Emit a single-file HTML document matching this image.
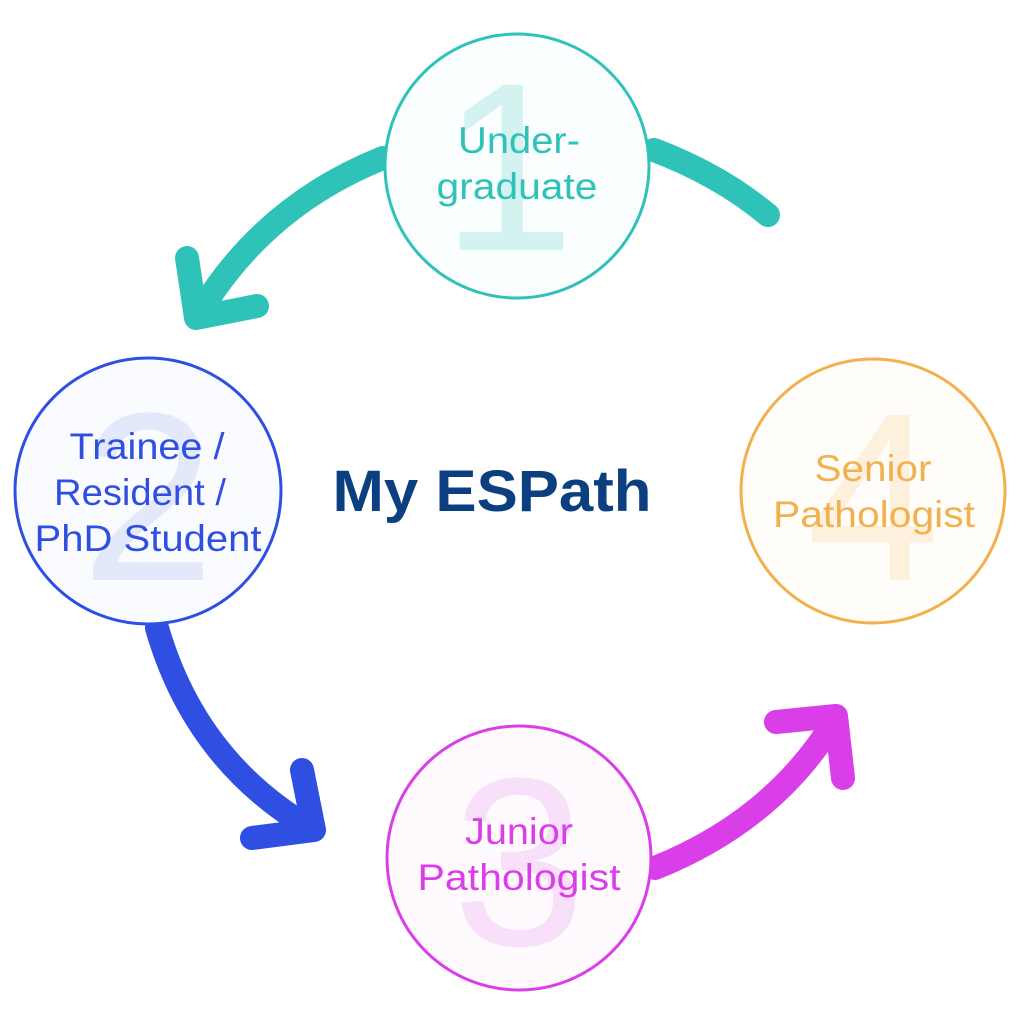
<!DOCTYPE html>
<html><head><style>
html,body{margin:0;padding:0;background:#fff;}
svg{display:block;}
text{font-family:"Liberation Sans","DejaVu Sans",sans-serif;}
</style></head><body>
<svg width="1024" height="1024" viewBox="0 0 1024 1024" xmlns="http://www.w3.org/2000/svg">
<rect width="1024" height="1024" fill="#fff"/>
<g fill="none" stroke-width="24" stroke-linecap="round" stroke-linejoin="round">
<path d="M383,158 Q265,205 200,312" stroke="#2ec2b8"/>
<path d="M187,258 L196,318 L257,306" stroke="#2ec2b8"/>
<path d="M654,150 Q720,175 768,215" stroke="#2ec2b8"/>
<path d="M157,628 Q195,760 310,828" stroke="#2f4fe2"/>
<path d="M302,770 L314,830 L252,838" stroke="#2f4fe2"/>
<path d="M655,868 Q775,820 836,718" stroke="#d93ee8"/>
<path d="M776,722 L836,716 L843,778" stroke="#d93ee8"/>
</g>
<circle cx="517" cy="166" r="132" fill="#fafefe" stroke="#2ec2b8" stroke-width="3"/>
<circle cx="148" cy="491" r="133" fill="#fafbff" stroke="#2f4fe2" stroke-width="3"/>
<circle cx="519" cy="858" r="132" fill="#fffafe" stroke="#d93ee8" stroke-width="3"/>
<circle cx="873" cy="491" r="132" fill="#fffdfa" stroke="#f2b14e" stroke-width="3"/>
<g font-size="240" text-anchor="middle">
<text x="508" y="250" fill="#d4f2f0">1</text>
<text x="148" y="580" fill="#e3e8fb">2</text>
<text x="519" y="945" fill="#f8e0fa">3</text>
<text x="873" y="580" fill="#fdf0dc">4</text>
</g>
<g font-size="37" text-anchor="middle">
<text x="519" y="153" fill="#2ec2b8" textLength="122" lengthAdjust="spacingAndGlyphs">Under-</text>
<text x="517" y="199" fill="#2ec2b8" textLength="161" lengthAdjust="spacingAndGlyphs">graduate</text>
<text x="147" y="459" fill="#2f4fe2" textLength="155" lengthAdjust="spacingAndGlyphs">Trainee /</text>
<text x="140" y="505" fill="#2f4fe2" textLength="172" lengthAdjust="spacingAndGlyphs">Resident /</text>
<text x="148" y="551" fill="#2f4fe2" textLength="227" lengthAdjust="spacingAndGlyphs">PhD Student</text>
<text x="519" y="844" fill="#d93ee8" textLength="108" lengthAdjust="spacingAndGlyphs">Junior</text>
<text x="519" y="890" fill="#d93ee8" textLength="203" lengthAdjust="spacingAndGlyphs">Pathologist</text>
<text x="873" y="481" fill="#f2b14e" textLength="117" lengthAdjust="spacingAndGlyphs">Senior</text>
<text x="874" y="527" fill="#f2b14e" textLength="202" lengthAdjust="spacingAndGlyphs">Pathologist</text>
</g>
<text x="492" y="511" font-size="58" font-weight="bold" text-anchor="middle" fill="#0b3f80" textLength="319" lengthAdjust="spacingAndGlyphs">My ESPath</text>
</svg>
</body></html>
